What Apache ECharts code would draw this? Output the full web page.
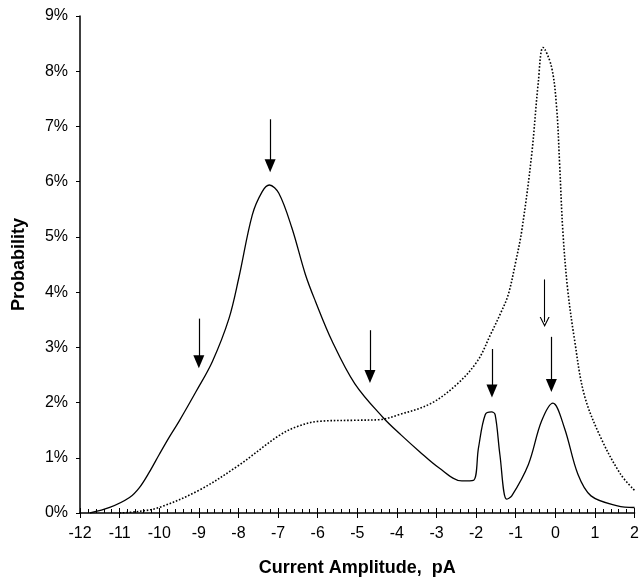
<!DOCTYPE html>
<html>
<head>
<meta charset="utf-8">
<script src="https://cdn.jsdelivr.net/npm/echarts@6/dist/echarts.min.js"></script>
<style>
html, body { margin: 0; padding: 0; background: #fff; }
#main { width: 642px; height: 582px; }
</style>
</head>
<body>
<div id="main"></div>
<script>
// x ticks, pA
var xMin = -12, xMax = 2;
// y ticks, percent
var yMin = 0, yMax = 9;

// solid curve
var solidX = [-11.75, -11.25, -10.75, -10.5, -10.25, -10.0, -9.75, -9.5, -9.07, -8.66, -8.24, -7.99, -7.65, -7.4, -7.22, -6.98, -6.65, -6.31, -6.06, -5.64, -5.06, -4.35, -3.89, -3.44, -2.94, -2.36, -2.07, -1.94, -1.77, -1.61, -1.52, -1.40, -1.23, -1.10, -0.68, -0.35, -0.06, 0.23, 0.57, 0.90, 1.57, 2.0];
var solidY = [0, 0.10, 0.28, 0.46, 0.74, 1.06, 1.37, 1.66, 2.20, 2.74, 3.52, 4.26, 5.40, 5.82, 5.94, 5.79, 5.16, 4.32, 3.84, 3.12, 2.34, 1.73, 1.41, 1.12, 0.82, 0.58, 0.59, 1.18, 1.78, 1.83, 1.78, 1.06, 0.25, 0.31, 0.88, 1.66, 1.99, 1.54, 0.70, 0.31, 0.13, 0.10];

// dotted curve
var dotX = [-11.0, -10.5, -10.0, -9.0, -8.0, -6.98, -6.5, -5.98, -5.0, -4.45, -3.95, -3.15, -2.47, -1.96, -1.63, -1.38, -1.19, -1.0, -0.85, -0.60, -0.43, -0.31, -0.10, 0.03, 0.11, 0.19, 0.31, 0.48, 0.73, 1.15, 1.65, 2.0];
var dotY = [0, 0.03, 0.10, 0.41, 0.86, 1.40, 1.57, 1.66, 1.68, 1.69, 1.78, 1.98, 2.34, 2.76, 3.24, 3.62, 3.95, 4.55, 5.10, 6.47, 7.80, 8.43, 8.09, 7.37, 6.29, 5.10, 4.06, 3.16, 2.14, 1.36, 0.70, 0.41];

// filled arrows
var arrowX = [-9.0, -7.2, -4.68, -1.6, -0.1];
var arrowTop = [3.52, 7.13, 3.31, 2.97, 3.19];
var arrowTip = [2.63, 6.18, 2.36, 2.10, 2.20];
// open arrow
var openX = [-0.27];
var openTop = [4.23];
var openTip = [3.37];

var FONT = 'Liberation Sans';

function pairs(xs, ys) {
	var out = [];
	for (var i = 0; i < xs.length; i++) out.push([xs[i], ys[i]]);
	return out;
}

// symbol is centred on the end point, so pull it back by half its height
function arrowLines(xs, tops, tips, half) {
	var out = [];
	for (var i = 0; i < xs.length; i++) {
		out.push([{ coord: [xs[i], tops[i]] }, { coord: [xs[i], tips[i] + half] }]);
	}
	return out;
}

var chart = echarts.init(document.getElementById('main'));

var option = {
	animation: false,
	backgroundColor: '#fff',
	grid: { left: 80, right: 4, top: 16, bottom: 65 },
	xAxis: [{
		type: 'value',
		position: 'bottom',
		min: xMin, max: xMax, interval: 1,
		name: 'Current Amplitude,  pA',
		nameLocation: 'middle',
		nameGap: 46,
		nameTextStyle: { fontFamily: FONT, fontSize: 18, fontWeight: 'bold', color: '#000' },
		axisLine: { onZero: false, lineStyle: { color: '#000', width: 1.5 } },
		axisTick: { inside: true, length: 5, lineStyle: { color: '#000', width: 1 } },
		minorTick: { show: true, splitNumber: 5, length: 4, lineStyle: { color: '#000', width: 1 } },
		axisLabel: { fontFamily: FONT, fontSize: 16, color: '#000', margin: 13 },
		splitLine: { show: false }
	}, {
		// outward half of the major ticks
		type: 'value',
		position: 'bottom',
		min: xMin, max: xMax, interval: 1,
		axisLine: { show: false, onZero: false },
		axisTick: { inside: false, length: 5, lineStyle: { color: '#000', width: 1 } },
		axisLabel: { show: false },
		splitLine: { show: false }
	}],
	yAxis: {
		type: 'value',
		min: yMin, max: yMax, interval: 1,
		name: 'Probability',
		nameLocation: 'middle',
		nameGap: 52,
		nameTextStyle: { fontFamily: FONT, fontSize: 18, fontWeight: 'bold', color: '#000' },
		axisLine: { show: true, onZero: false, lineStyle: { color: '#000', width: 1.5 } },
		axisTick: { show: true, length: 4, lineStyle: { color: '#000', width: 1 } },
		axisLabel: { fontFamily: FONT, fontSize: 16, color: '#000', margin: 12, formatter: '{value}%' },
		splitLine: { show: false }
	},
	series: [{
		name: 'solid',
		type: 'line',
		smooth: 0.35,
		symbol: 'none',
		lineStyle: { color: '#000', width: 1.3 },
		data: pairs(solidX, solidY),
		markLine: {
			silent: true,
			symbol: ['none', 'triangle'],
			symbolSize: [11, 13],
			label: { show: false },
			lineStyle: { color: '#000', width: 1.2, type: 'solid' },
			data: arrowLines(arrowX, arrowTop, arrowTip, 0.11)
		}
	}, {
		name: 'dotted',
		type: 'line',
		smooth: 0.35,
		symbol: 'none',
		lineStyle: { color: '#000', width: 1.6, type: [1.6, 1.8] },
		data: pairs(dotX, dotY),
		markLine: {
			silent: true,
			symbol: ['none', 'path://M5,0 L10,10 L8.8,10 L5,2.4 L1.2,10 L0,10 Z'],
			symbolSize: [10, 10],
			label: { show: false },
			lineStyle: { color: '#000', width: 1.1, type: 'solid' },
			data: arrowLines(openX, openTop, openTip, 0.09)
		}
	}]
};

chart.setOption(option);
</script>
</body>
</html>
